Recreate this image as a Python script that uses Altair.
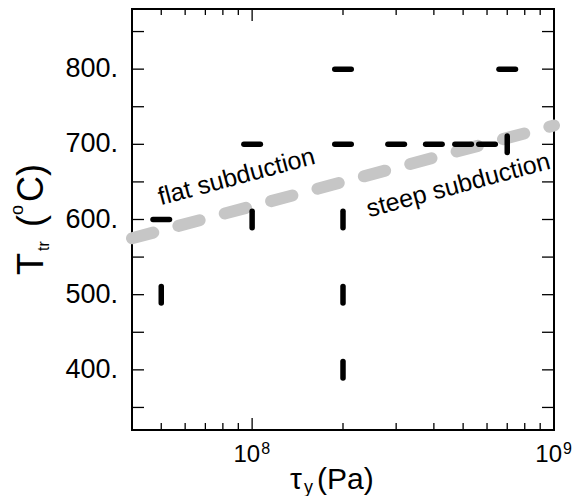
import altair as alt
import pandas as pd

# ---- data ----
flat_x = [5e7, 1e8, 2e8, 2e8, 3e8, 4e8, 5e8, 6e8, 7e8]
flat_y = [600, 700, 700, 800, 700, 700, 700, 700, 800]
steep_x = [5e7, 1e8, 2e8, 2e8, 2e8, 7e8]
steep_y = [500, 600, 600, 500, 400, 700]
sep_x = [4e7, 1e9]
sep_y = [575, 725]
x_minor = [5e7, 6e7, 7e7, 8e7, 9e7, 2e8, 3e8, 4e8, 5e8, 6e8, 7e8, 8e8, 9e8]
x_major = [1e8]
y_ticks = [350, 400, 450, 500, 550, 600, 650, 700, 750, 800, 850]
y_labels = [400, 500, 600, 700, 800]
y_label_text = ["400.", "500.", "600.", "700.", "800."]
x_label_vals = [1e8, 1e9]
x_label_base = ["10", "10"]
x_label_exp = ["8", "9"]
ann_x = [4.98e7, 2.44e8]
ann_y = [619, 603]
ann_text = ["flat subduction", "steep subduction"]
x_title_parts = ["τ", "y", "(Pa)"]
y_title_parts = ["T", "tr", "(", "o", "C)"]

W, H = 422, 421
FONT = "Liberation Sans"
xs = alt.Scale(type="log", domain=[4e7, 1e9], nice=False)
ys = alt.Scale(domain=[320, 880], nice=False, zero=False)

df_flat = pd.DataFrame({"x": flat_x, "y": flat_y})
df_steep = pd.DataFrame({"x": steep_x, "y": steep_y})
df_sep = pd.DataFrame({"x": sep_x, "y": sep_y})
df_xmin = pd.DataFrame({"x": x_minor})
df_xmaj = pd.DataFrame({"x": x_major})
df_yt = pd.DataFrame({"y": y_ticks})
df_yl = pd.DataFrame({"y": y_labels, "t": y_label_text})
df_xl = pd.DataFrame({"x": x_label_vals, "b": x_label_base, "e": x_label_exp})
df_ann = pd.DataFrame({"x": ann_x, "y": ann_y, "t": ann_text})

X = lambda: alt.X("x:Q", scale=xs, axis=None)
Y = lambda: alt.Y("y:Q", scale=ys, axis=None)

sep = alt.Chart(df_sep).mark_line(
    color="#c6c6c6", strokeWidth=12, strokeDash=[22, 26], strokeCap="round"
).encode(x=X(), y=Y())

tick_style = dict(color="black", strokeWidth=1.3)
xmin_b = alt.Chart(df_xmin).mark_rule(**tick_style).encode(x=X(), y=alt.value(H), y2=alt.value(H - 7))
xmin_t = alt.Chart(df_xmin).mark_rule(**tick_style).encode(x=X(), y=alt.value(0), y2=alt.value(6))
xmaj_b = alt.Chart(df_xmaj).mark_rule(**tick_style).encode(x=X(), y=alt.value(H), y2=alt.value(H - 12))
xmaj_t = alt.Chart(df_xmaj).mark_rule(**tick_style).encode(x=X(), y=alt.value(0), y2=alt.value(12))
y_l = alt.Chart(df_yt).mark_rule(**tick_style).encode(y=Y(), x=alt.value(0), x2=alt.value(12))
y_r = alt.Chart(df_yt).mark_rule(**tick_style).encode(y=Y(), x=alt.value(W), x2=alt.value(W - 12))

mk = dict(filled=False, color="black", strokeWidth=5.5, strokeCap="round", opacity=1, size=272)
flat = alt.Chart(df_flat).mark_point(shape="M-1,0L1,0", **mk).encode(x=X(), y=Y())
steep = alt.Chart(df_steep).mark_point(shape="M0,-1L0,1", **mk).encode(x=X(), y=Y())

ann = alt.Chart(df_ann).mark_text(
    angle=345, align="left", baseline="alphabetic", font=FONT, fontSize=25, color="black"
).encode(x=X(), y=Y(), text="t:N")

yl = alt.Chart(df_yl).mark_text(
    align="right", baseline="middle", font=FONT, fontSize=27, color="black"
).encode(y=Y(), x=alt.value(-14), text="t:N")

xl_base = alt.Chart(df_xl).mark_text(
    align="right", baseline="alphabetic", dx=8, font=FONT, fontSize=24, color="black"
).encode(x=X(), y=alt.value(453), text="b:N")
xl_exp = alt.Chart(df_xl).mark_text(
    align="left", baseline="alphabetic", dx=9, font=FONT, fontSize=16, color="black"
).encode(x=X(), y=alt.value(445), text="e:N")


def piece(txt, px, py, size, angle=0):
    kw = dict(align="left", baseline="alphabetic", font=FONT, fontSize=size, color="black")
    if angle:
        kw["angle"] = angle
    return alt.Chart(pd.DataFrame({"t": [txt]})).mark_text(**kw).encode(
        x=alt.value(px), y=alt.value(py), text="t:N")


xt = [
    piece(x_title_parts[0], 158, 480, 30),
    piece(x_title_parts[1], 172, 484, 18),
    piece(x_title_parts[2], 185, 480, 30),
]
yt = [
    piece(y_title_parts[0], -89, 266, 36, 270),
    piece(y_title_parts[1], -83, 242, 16, 270),
    piece(y_title_parts[2], -89, 218, 36, 270),
    piece(y_title_parts[3], -109, 206, 18, 270),
    piece(y_title_parts[4], -89, 193, 36, 270),
]

chart = alt.layer(
    sep, xmin_b, xmin_t, xmaj_b, xmaj_t, y_l, y_r, flat, steep, ann, yl, xl_base, xl_exp, *xt, *yt
).properties(
    width=W, height=H,
    autosize=alt.AutoSizeParams(type="none"),
    padding={"left": 124, "top": 1, "right": 22, "bottom": 66},
).configure_view(stroke="black", strokeWidth=2)

chart.save("out.html", embed_options={"renderer": "svg", "actions": False})
